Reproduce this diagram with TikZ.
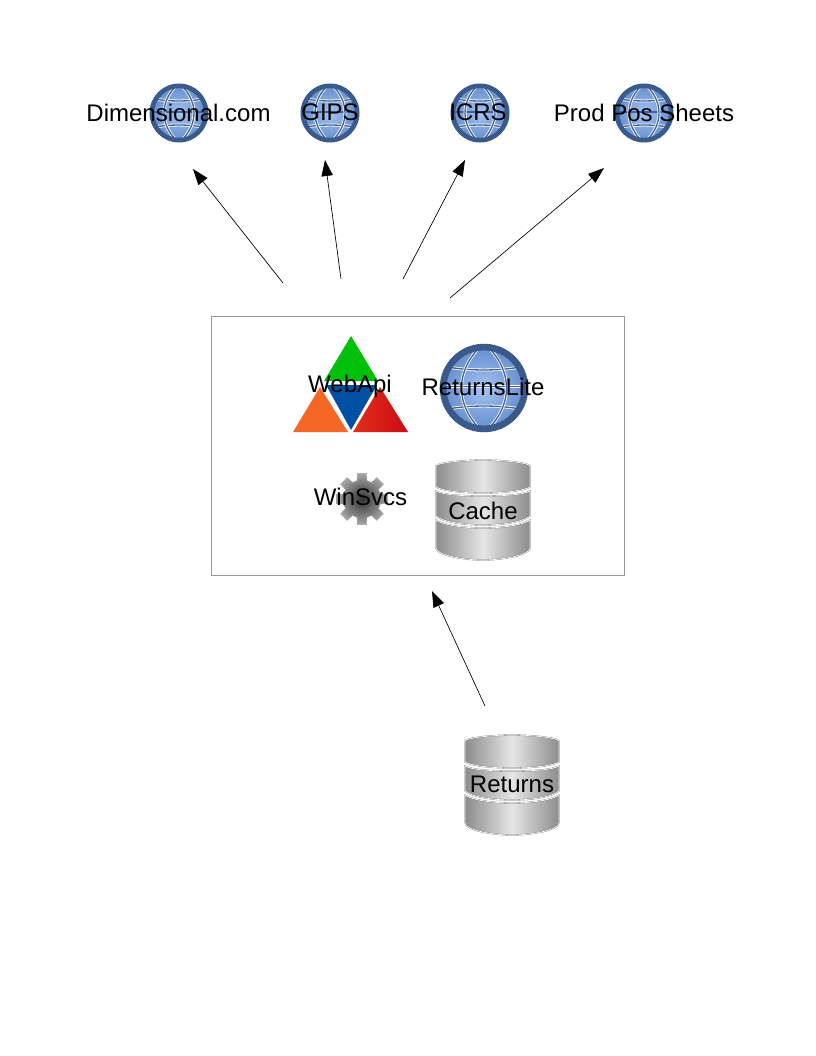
\documentclass[tikz,border=0pt]{standalone}
\usepackage{fontspec}
\setmainfont{Liberation Sans}
\usetikzlibrary{arrows.meta}
\definecolor{globedark}{HTML}{3A5A8C}
\definecolor{globelight}{HTML}{A4C3F0}
\definecolor{globemid}{HTML}{6A92D0}
\definecolor{globegap}{HTML}{3F6299}
\definecolor{tierdark}{HTML}{8C8C8C}
\definecolor{tierlight}{HTML}{E6E6E6}
\definecolor{triadgreen}{HTML}{00C00A}
\definecolor{triadblue}{HTML}{0050A4}
\definecolor{triadorange}{HTML}{F56724}
\definecolor{triadred}{HTML}{CC0A14}
\definecolor{triadredlight}{HTML}{E0301A}

\tikzset{
    label_text/.style={font=\fontsize{18}{20}\selectfont, text=black, inner sep=0pt},
    flow_arrow/.style={-{Triangle[length=12pt, width=8.5pt]}, line width=0.5pt, black},
    frame_box/.style={rectangle, draw=black!40, line width=0.5pt, minimum width=309.75pt, minimum height=194.25pt, inner sep=0pt},
    globe_line/.style={draw=white, line width=0.6pt, double=globegap, double distance=1pt},
    tier/.style={draw=black!50, line width=1pt, left color=tierdark, right color=tierdark, middle color=tierlight, postaction={draw=white, line width=0.5pt}},
    globe/.pic={
        \fill[globedark] (0,0) circle (29.5);
        \shade[inner color=globelight, outer color=globemid] (0,0) circle (25.5);
        \begin{scope}
            \clip (0,0) circle (25.5);
            \draw[globe_line] (-30,-1) -- (30,-1);
            \draw[globe_line] (-30,-15) .. controls (-10,-11) and (10,-11) .. (30,-15);
            \draw[globe_line] (-30,15) .. controls (-10,11) and (10,11) .. (30,15);
            \draw[globe_line] (0,-30) .. controls (-20,-12) and (-20,12) .. (0,30);
            \draw[globe_line] (0,-30) .. controls (20,-12) and (20,12) .. (0,30);
            \draw[globe_line] (-4,-30) .. controls (-36,-14) and (-36,14) .. (-4,30);
            \draw[globe_line] (4,-30) .. controls (36,-14) and (36,14) .. (4,30);
        \end{scope}
        \draw[globedark, line width=1pt] (0,0) circle (25.5);
    },
    database/.pic={
        \path[tier] (-47,-44) .. controls (-47,-47) and (-20,-50) .. (0,-50) .. controls (20,-50) and (47,-47) .. (47,-44) -- (47,-23) .. controls (40,-19) and (20,-17) .. (0,-17) .. controls (-20,-17) and (-40,-19) .. (-47,-23) -- cycle;
        \path[tier] (-47,-19) .. controls (-40,-15) and (-20,-14) .. (0,-14) .. controls (20,-14) and (40,-15) .. (47,-19) -- (47,6) .. controls (40,12) and (20,15) .. (0,15) .. controls (-20,15) and (-40,12) .. (-47,6) -- cycle;
        \path[tier] (-47,10) .. controls (-40,15) and (-20,18) .. (0,18) .. controls (20,18) and (40,15) .. (47,10) -- (47,38) .. controls (47,45) and (20,50) .. (0,50) .. controls (-20,50) and (-47,45) .. (-47,38) -- cycle;
    },
    gear/.pic={
        \path[draw=black!35, line width=0.5pt, inner color=black!80, outer color=black!35]
            (-15:19) \foreach \a in {0,45,...,315} { -- (\a-15:19) -- (\a-10:26) -- (\a+10:26) -- (\a+15:19) } -- cycle;
    },
    triad/.pic={
        \fill[triadgreen] (0,-48) -- (27,-3) -- (-27,-3) -- cycle;
        \fill[triadblue] (-25,1) -- (26,1) -- (0,46) -- cycle;
        \fill[triadorange] (-58,48) -- (-31,3) -- (-3,48) -- cycle;
        \path[left color=triadredlight, right color=triadred] (2,48) -- (29,3) -- (57,48) -- cycle;
    }
}

\begin{document}
\begin{tikzpicture}[x=0.75pt, y=-0.75pt]
    \useasboundingbox (0,0) rectangle (816,1056);

    % Sites on top
    \pic (dimensional_globe) at (179,113) {globe};
    \pic (gips_globe) at (330,113) {globe};
    \pic (icrs_globe) at (480,113) {globe};
    \pic (prodpos_globe) at (644,113) {globe};
    \node[label_text] (dimensional) at (178.5,113) {Dimensional.com};
    \node[label_text] (gips) at (330,112) {GIPS};
    \node[label_text] (icrs) at (478,112) {ICRS};
    \node[label_text] (prodpos) at (644,113) {Prod Pos Sheets};

    % Box with the services
    \node[frame_box] (services) at (417.5,446) {};
    \pic at (351,384) {triad};
    \pic[scale=1.5] (lite_globe) at (484,388) {globe};
    \pic (gear_icon) at (362,499) {gear};
    \pic (cache_db) at (483,510) {database};
    \node[label_text] (webapi) at (350,386) {WebApi};
    \node[label_text] (lite) at (483,387) {ReturnsLite};
    \node[label_text] (winsvcs) at (360.5,497) {WinSvcs};
    \node[label_text] (cache) at (483,511) {Cache};

    % Source database
    \pic (returns_db) at (512,785) {database};
    \node[label_text] (returns) at (512,784) {Returns};

    % Arrow ends
    \coordinate (out1) at (283,283);
    \coordinate (out2) at (341,279);
    \coordinate (out3) at (403,279);
    \coordinate (out4) at (450,298);
    \coordinate (in1) at (193,169);
    \coordinate (in2) at (325,160);
    \coordinate (in3) at (465,160);
    \coordinate (in4) at (604,168);
    \coordinate (returns_out) at (485,706);
    \coordinate (services_in) at (432,591);

    % Arrows
    \draw[flow_arrow] (out1) -- (in1);
    \draw[flow_arrow] (out2) -- (in2);
    \draw[flow_arrow] (out3) -- (in3);
    \draw[flow_arrow] (out4) -- (in4);
    \draw[flow_arrow] (returns_out) -- (services_in);

\end{tikzpicture}
\end{document}
